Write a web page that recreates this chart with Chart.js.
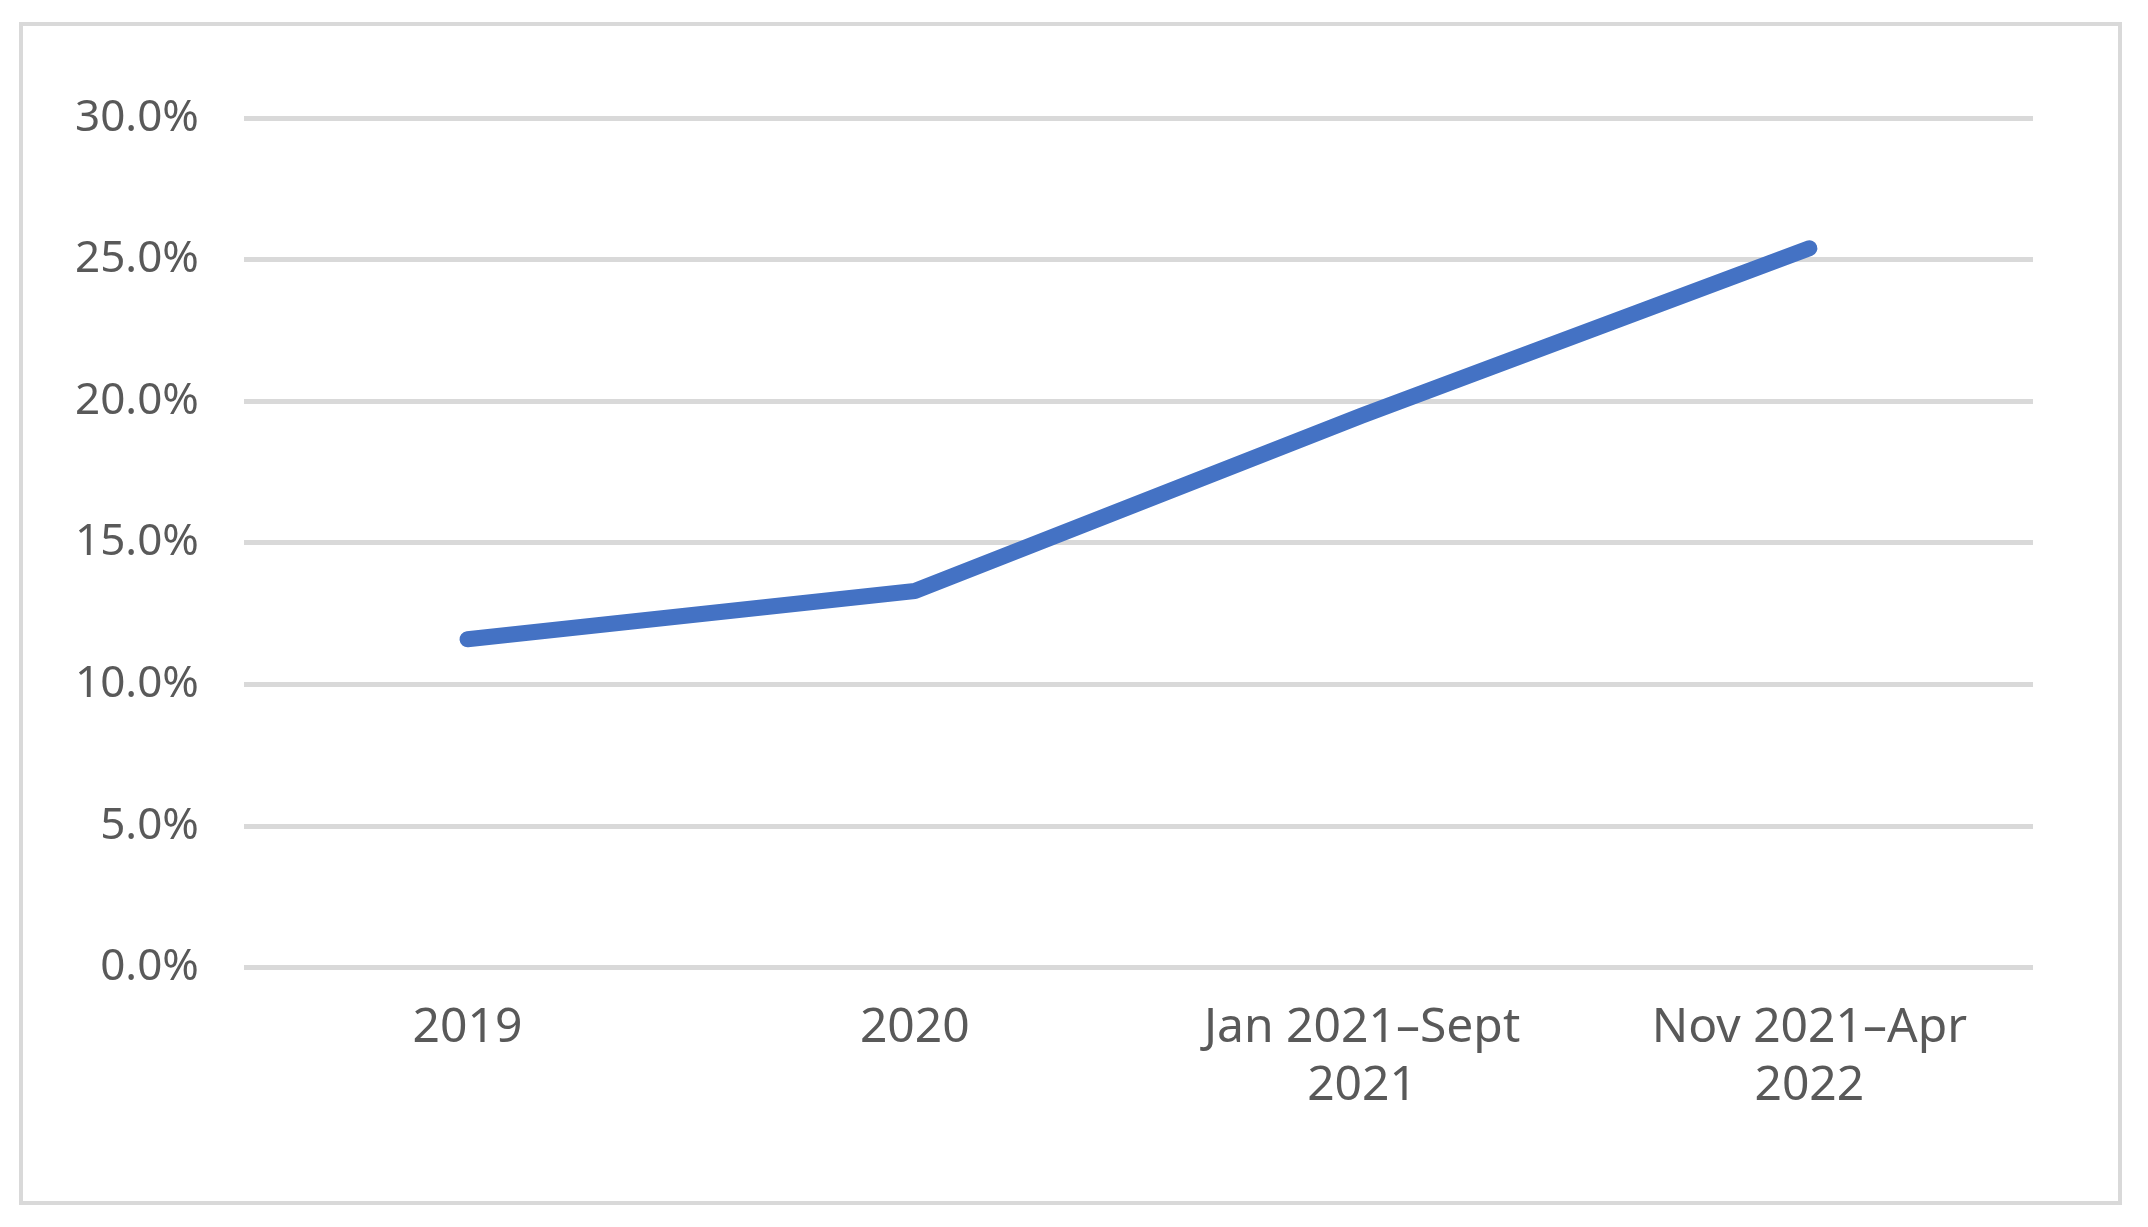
<!DOCTYPE html>
<html>
<head>
<meta charset="utf-8">
<script src="https://cdn.jsdelivr.net/npm/chart.js@4"></script>
<style>
  html, body { margin: 0; padding: 0; background: #fff; }
  #frame { position: absolute; left: 19px; top: 22px; width: 2095px; height: 1175px; border: 4px solid #d9d9d9; }
  #wrap { position: absolute; left: 0; top: 0; width: 2148px; height: 1227px; }
</style>
</head>
<body>
<div id="frame"></div>
<div id="wrap"><canvas id="chart"></canvas></div>
<script>
// Chart data
const categories = ['2019', '2020', ['Jan 2021\u2013Sept', '2021'], ['Nov 2021\u2013Apr', '2022']];
const values = [11.6, 13.3, 19.5, 25.4];
const yTicks = [0, 5, 10, 15, 20, 25, 30];

new Chart(document.getElementById('chart'), {
    type: 'line',
    data: {
        labels: categories,
        datasets: [{
            data: values,
            borderColor: '#4472C4',
            borderWidth: 16,
            borderCapStyle: 'round',
            borderJoinStyle: 'round',
            pointRadius: 0,
            tension: 0
        }]
    },
    options: {
        responsive: true,
        maintainAspectRatio: false,
        animation: false,
        layout: { padding: { left: 30, right: 115, top: 118, bottom: 88 } },
        plugins: { legend: { display: false }, tooltip: { enabled: false } },
        scales: {
            x: {
                offset: true,
                grid: { display: false },
                border: { display: false },
                ticks: { color: '#595959', font: { family: 'Noto Sans', size: 48 }, maxRotation: 0, padding: 24 }
            },
            y: {
                min: 0,
                max: 30,
                afterBuildTicks: axis => { axis.ticks = yTicks.map(v => ({ value: v })); },
                grid: { color: '#d9d9d9', lineWidth: 5, drawTicks: false },
                border: { display: false },
                ticks: {
                    color: '#595959',
                    font: { family: 'Noto Sans', size: 44 },
                    padding: 45,
                    callback: v => v.toFixed(1) + '%'
                }
            }
        }
    }
});
</script>
</body>
</html>
